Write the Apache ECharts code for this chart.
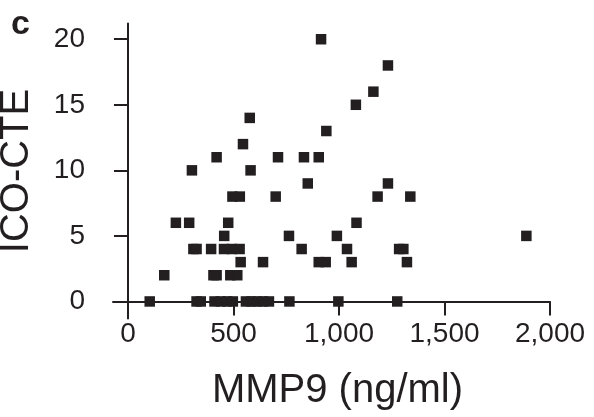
<!DOCTYPE html>
<html>
<head>
<meta charset="utf-8">
<script src="https://cdn.jsdelivr.net/npm/echarts@6/dist/echarts.min.js"></script>
<style>
  html, body { margin: 0; padding: 0; background: #fff; }
  #chart { width: 594px; height: 417px; }
</style>
</head>
<body>
<div id="chart"></div>
<script>
// values, paired by index
var mmp9 = [915, 1232, 1163, 1080, 577, 940, 545,
  420, 711, 834, 904,
  303, 581,
  852, 1232,
  495, 530, 700, 1183, 1338,
  227, 290, 475, 1083,
  456, 763, 990, 1888,
  310, 325, 394, 455, 492, 529, 823, 1038, 1285, 1305,
  534, 640, 904, 937, 1060, 1322,
  172, 405, 420, 485, 518,
  103, 325, 345, 410, 440, 470, 497, 559, 585, 612, 640, 668, 765, 997, 1276];
var icoCte = [20, 18, 16, 15, 14, 13, 12,
  11, 11, 11, 11,
  10, 10,
  9, 9,
  8, 8, 8, 8, 8,
  6, 6, 6, 6,
  5, 5, 5, 5,
  4, 4, 4, 4, 4, 4, 4, 4, 4, 4,
  3, 3, 3, 3, 3, 3,
  2, 2, 2, 2, 2,
  0, 0, 0, 0, 0, 0, 0, 0, 0, 0, 0, 0, 0, 0, 0];
var xTicks = [0, 500, 1000, 1500, 2000];
var yTicks = [0, 5, 10, 15, 20];

var points = [];
for (var i = 0; i < mmp9.length; i++) {
  points.push([mmp9[i], icoCte[i]]);
}

var ink = '#231f20';
var font = '"Liberation Sans", Arial, Helvetica, sans-serif';

var myChart = echarts.init(document.getElementById('chart'));
var option = {
  animation: false,
  grid: { left: 113, right: 44, top: 23.5, bottom: 98.5, outerBoundsMode: 'none' },
  graphic: [{
    type: 'text',
    x: 11, y: 25,
    style: { text: 'c', font: 'bold 34px ' + font, fill: ink, textAlign: 'left', textVerticalAlign: 'middle' }
  }],
  xAxis: {
    type: 'value',
    min: -71,
    max: 2000,
    name: 'MMP9 (ng/ml)',
    nameLocation: 'middle',
    nameGap: 52,
    nameMoveOverlap: false,
    nameTextStyle: { fontFamily: font, fontSize: 40, color: ink, padding: [0, 0, 0, 12] },
    axisLine: { onZero: true, lineStyle: { color: ink, width: 2 } },
    axisTick: { show: true, length: 14, inside: false, customValues: xTicks, lineStyle: { color: ink, width: 2 } },
    axisLabel: {
      customValues: xTicks,
      margin: 2,
      fontFamily: font, fontSize: 28, color: ink,
      formatter: function (v) { return String(v).replace(/\B(?=(\d{3})+(?!\d))/g, ','); }
    },
    splitLine: { show: false }
  },
  yAxis: {
    type: 'value',
    min: -1.3,
    max: 21.2,
    name: 'ICO-CTE',
    nameLocation: 'middle',
    nameGap: 76,
    nameMoveOverlap: false,
    nameTextStyle: { fontFamily: font, fontSize: 40, color: ink },
    axisLine: { show: true, onZero: true, lineStyle: { color: ink, width: 2 } },
    axisTick: { show: true, length: 14, inside: false, customValues: yTicks, lineStyle: { color: ink, width: 2 } },
    axisLabel: { customValues: yTicks, margin: 28, fontFamily: font, fontSize: 28, color: ink },
    splitLine: { show: false }
  },
  series: [{
    type: 'scatter',
    symbol: 'rect',
    symbolSize: 10.5,
    itemStyle: { color: ink, opacity: 1 },
    data: points
  }]
};
myChart.setOption(option);
</script>
</body>
</html>
